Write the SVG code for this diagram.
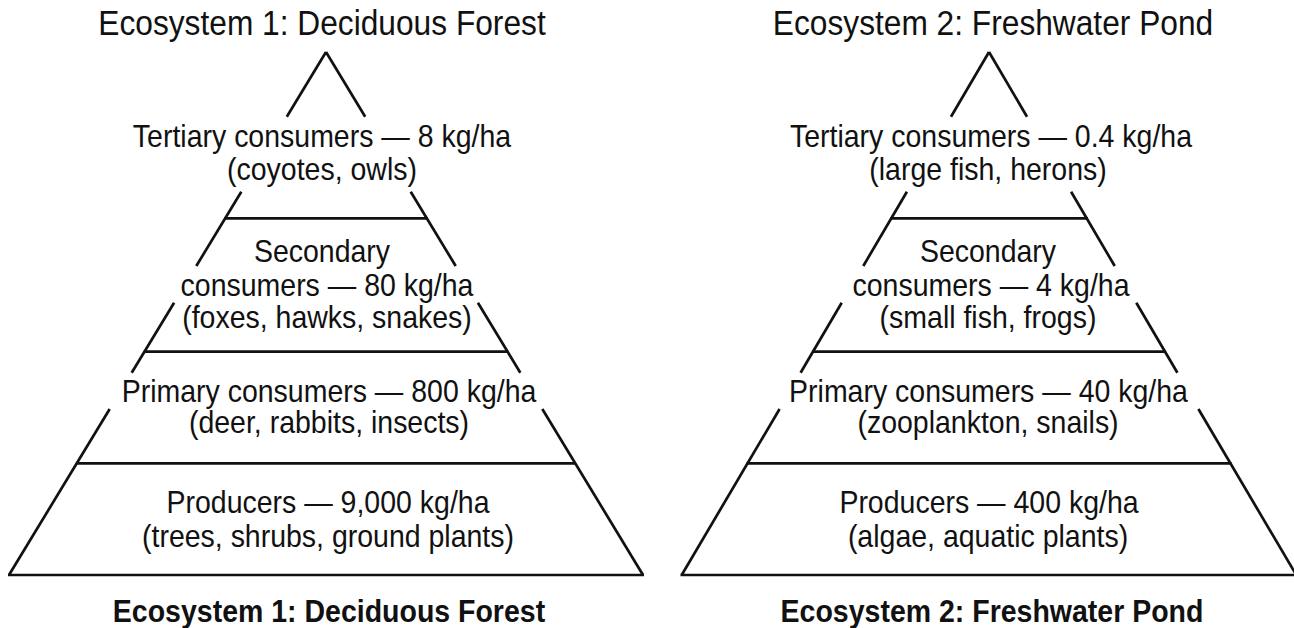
<svg xmlns="http://www.w3.org/2000/svg" width="1294" height="628" viewBox="0 0 1294 628">
<style>
  .bg{fill:#fff}
  .ln{stroke:#111;stroke-width:2.7;stroke-linecap:butt;fill:none}
  .t{font-family:"Liberation Sans",Arial,Helvetica,sans-serif;fill:#111;text-anchor:middle}
  .lab{font-size:28.5px}
  .ttl{font-size:31.7px}
  .bt{font-size:28.5px;font-weight:bold}
</style>
<rect class="bg" x="0" y="0" width="1294" height="628"/>

<!-- Ecosystem 1 -->
<g id="eco1">
  <g id="eco1-outline">
    <line class="ln" x1="326" y1="52" x2="286.8" y2="116.7"/>
    <line class="ln" x1="326" y1="52" x2="365.2" y2="116.7"/>
    <line class="ln" x1="241.3" y1="191.7" x2="196.3" y2="266"/>
    <line class="ln" x1="410.7" y1="191.7" x2="455.7" y2="266"/>
    <line class="ln" x1="174.1" y1="302.7" x2="131.7" y2="372.7"/>
    <line class="ln" x1="477.9" y1="302.7" x2="520.3" y2="372.7"/>
    <line class="ln" x1="109.7" y1="409" x2="9" y2="575"/>
    <line class="ln" x1="542.3" y1="409" x2="643" y2="575"/>
    <line class="ln" x1="224.5" y1="218.3" x2="427.5" y2="218.3"/>
    <line class="ln" x1="143.8" y1="351.7" x2="508.2" y2="351.7"/>
    <line class="ln" x1="76" y1="463.3" x2="576" y2="463.3"/>
    <line class="ln" x1="8" y1="575" x2="644" y2="575"/>
  </g>
  <text id="eco1-title" class="t ttl" transform="translate(322 35) scale(1 1.1)">Ecosystem 1: Deciduous Forest</text>
  <g id="eco1-tertiary">
    <text class="t lab" transform="translate(322 146.7) scale(1 1.1)">Tertiary consumers — 8 kg/ha</text>
    <text class="t lab" transform="translate(322 180) scale(1 1.1)">(coyotes, owls)</text>
  </g>
  <g id="eco1-secondary">
    <text class="t lab" transform="translate(322 262.3) scale(1 1.1)">Secondary</text>
    <text class="t lab" transform="translate(327 295.7) scale(1 1.1)">consumers — 80 kg/ha</text>
    <text class="t lab" transform="translate(327 328.3) scale(1 1.1)">(foxes, hawks, snakes)</text>
  </g>
  <g id="eco1-primary">
    <text class="t lab" transform="translate(329 401.7) scale(1 1.1)">Primary consumers — 800 kg/ha</text>
    <text class="t lab" transform="translate(329 433.3) scale(1 1.1)">(deer, rabbits, insects)</text>
  </g>
  <g id="eco1-producers">
    <text class="t lab" transform="translate(328 513.3) scale(1 1.1)">Producers — 9,000 kg/ha</text>
    <text class="t lab" transform="translate(328 546.7) scale(1 1.1)">(trees, shrubs, ground plants)</text>
  </g>
  <text id="eco1-caption" class="t bt" transform="translate(329 621.7) scale(1 1.08)">Ecosystem 1: Deciduous Forest</text>
</g>

<!-- Ecosystem 2 -->
<g id="eco2">
  <g id="eco2-outline">
    <line class="ln" x1="989" y1="52" x2="951" y2="116.7"/>
    <line class="ln" x1="989" y1="52" x2="1027" y2="116.7"/>
    <line class="ln" x1="906.9" y1="191.7" x2="863.3" y2="266"/>
    <line class="ln" x1="1071.1" y1="191.7" x2="1114.7" y2="266"/>
    <line class="ln" x1="841.7" y1="302.7" x2="800.6" y2="372.7"/>
    <line class="ln" x1="1136.3" y1="302.7" x2="1177.4" y2="372.7"/>
    <line class="ln" x1="779.6" y1="409" x2="681.7" y2="575"/>
    <line class="ln" x1="1198.4" y1="409" x2="1296.3" y2="575"/>
    <line class="ln" x1="890" y1="218.3" x2="1088" y2="218.3"/>
    <line class="ln" x1="812" y1="351.7" x2="1166" y2="351.7"/>
    <line class="ln" x1="746.5" y1="463.3" x2="1231.5" y2="463.3"/>
    <line class="ln" x1="680.5" y1="575" x2="1296" y2="575"/>
  </g>
  <text id="eco2-title" class="t ttl" transform="translate(993 35) scale(1 1.1)">Ecosystem 2: Freshwater Pond</text>
  <g id="eco2-tertiary">
    <text class="t lab" transform="translate(991 146.7) scale(1 1.1)">Tertiary consumers — 0.4 kg/ha</text>
    <text class="t lab" transform="translate(988 180) scale(1 1.1)">(large fish, herons)</text>
  </g>
  <g id="eco2-secondary">
    <text class="t lab" transform="translate(988 262.3) scale(1 1.1)">Secondary</text>
    <text class="t lab" transform="translate(991 295.7) scale(1 1.1)">consumers — 4 kg/ha</text>
    <text class="t lab" transform="translate(988 328.3) scale(1 1.1)">(small fish, frogs)</text>
  </g>
  <g id="eco2-primary">
    <text class="t lab" transform="translate(988.5 401.7) scale(1 1.1)">Primary consumers — 40 kg/ha</text>
    <text class="t lab" transform="translate(988 433.3) scale(1 1.1)">(zooplankton, snails)</text>
  </g>
  <g id="eco2-producers">
    <text class="t lab" transform="translate(989 513.3) scale(1 1.1)">Producers — 400 kg/ha</text>
    <text class="t lab" transform="translate(988 546.7) scale(1 1.1)">(algae, aquatic plants)</text>
  </g>
  <text id="eco2-caption" class="t bt" transform="translate(992 621.7) scale(1 1.08)">Ecosystem 2: Freshwater Pond</text>
</g>
</svg>
